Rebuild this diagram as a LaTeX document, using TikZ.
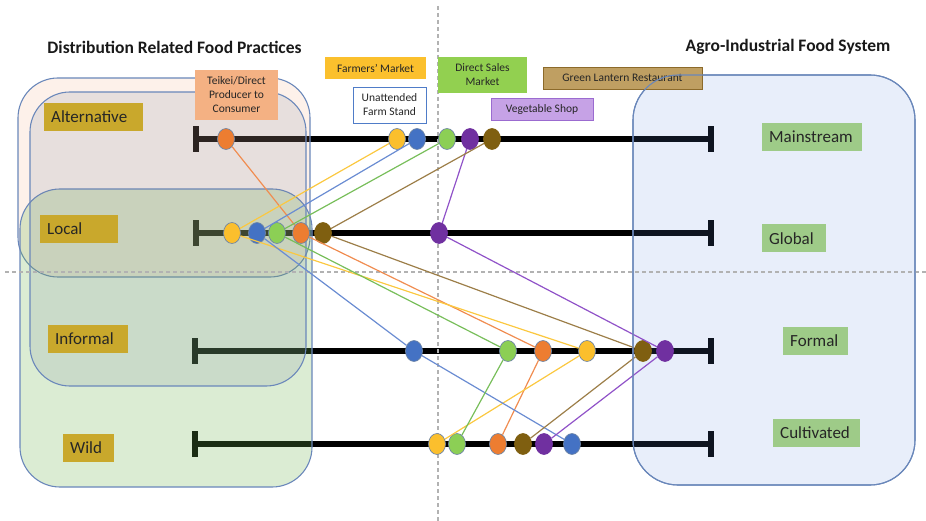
\documentclass[tikz,border=0pt]{standalone}
\usepackage{fontspec}
\setmainfont{Carlito}
\usetikzlibrary{shapes.geometric}

% frames and region fills
\definecolor{frameblue}{HTML}{6A87BA}
\definecolor{peachc}{HTML}{F0965A}
\definecolor{wildc}{HTML}{6EB450}
\definecolor{informc}{HTML}{78829A}
\definecolor{agroc}{HTML}{648CDC}
% label fills
\definecolor{goldc}{HTML}{C9A82C}
\definecolor{greenlab}{HTML}{9ECB88}
\definecolor{teikeic}{HTML}{F4B183}
\definecolor{farmc}{HTML}{FBC02D}
\definecolor{directc}{HTML}{92D050}
\definecolor{vegc}{HTML}{C6A2E6}
\definecolor{vegb}{HTML}{9B6BD0}
\definecolor{lanternc}{HTML}{BF9F62}
\definecolor{lanternb}{HTML}{8C6A2A}
\definecolor{standb}{HTML}{4F7CC8}
\definecolor{textdark}{HTML}{262626}
% practice dots and their links
\definecolor{dorange}{HTML}{ED7D31}
\definecolor{dyellow}{HTML}{FBBF2D}
\definecolor{dblue}{HTML}{4472C4}
\definecolor{dgreen}{HTML}{8CCF55}
\definecolor{dpurple}{HTML}{7030A0}
\definecolor{dbrown}{HTML}{7F5F10}
\definecolor{lorange}{HTML}{F08C50}
\definecolor{lyellow}{HTML}{FBC840}
\definecolor{lblue}{HTML}{6A8CD2}
\definecolor{lgreen}{HTML}{78BE5A}
\definecolor{lpurple}{HTML}{9052C8}
\definecolor{lbrown}{HTML}{9C7E48}
\definecolor{dotrim}{HTML}{6F86A6}

\begin{document}
\begin{tikzpicture}[x=1pt,y=-1pt,
  axisline/.style={line width=5.5pt},
  axisend/.style={fill=black, draw=none, inner sep=0pt, minimum width=5.5pt, minimum height=26pt},
  regionbox/.style={draw=frameblue, line width=1.1pt, rounded corners=40pt},
  guideline/.style={draw=black!30, line width=1.2pt, dash pattern=on 4pt off 3pt},
  practicedot/.style={ellipse, inner sep=0pt, minimum width=17pt, minimum height=21pt, draw=dotrim, line width=0.7pt},
  orangedot/.style={practicedot, fill=dorange},
  yellowdot/.style={practicedot, fill=dyellow},
  bluedot/.style={practicedot, fill=dblue},
  greendot/.style={practicedot, fill=dgreen},
  purpledot/.style={practicedot, fill=dpurple, draw=dpurple},
  browndot/.style={practicedot, fill=dbrown, draw=dbrown},
  practiceline/.style={line width=1.2pt},
  headline/.style={font=\bfseries\fontsize{17.5}{21}\selectfont, text=black!90, inner sep=0pt},
  toplabel/.style={inner sep=0pt, align=center, font=\fontsize{11.5}{14}\selectfont, text=textdark},
  catlabel/.style={fill=goldc, anchor=west, inner xsep=7pt, inner ysep=0pt, minimum height=28pt, align=left, font=\fontsize{17}{20}\selectfont, text=textdark},
  sidelabel/.style={catlabel, fill=greenlab}
]
\useasboundingbox (0,0) rectangle (926,521);

% the four scales
\node[axisend] (mL) at (196,139) {};
\node[axisend] (mR) at (711,139) {};
\node[axisend] (lL) at (196,233) {};
\node[axisend] (lR) at (711,233) {};
\node[axisend] (fL) at (195,351) {};
\node[axisend] (fR) at (711,351) {};
\node[axisend] (wL) at (195,444) {};
\node[axisend] (wR) at (711,444) {};
\draw[axisline] (mL.center) -- (mR.center);
\draw[axisline] (lL.center) -- (lR.center);
\draw[axisline] (fL.center) -- (fR.center);
\draw[axisline] (wL.center) -- (wR.center);

% regions
\path[regionbox, fill=peachc, fill opacity=.13] (18,78) rectangle (310,277);
\path[regionbox, fill=wildc, fill opacity=.25] (20,189) rectangle (312,487);
\path[regionbox, fill=informc, fill opacity=.16] (30,92) rectangle (306,386);
\path[regionbox, rounded corners=45pt, fill=agroc, fill opacity=.15] (633,75) rectangle (915,485);

% quadrant guides
\draw[guideline] (438,6) -- (438,521);
\draw[guideline] (5,272) -- (926,272);

% practice positions
\node[orangedot] (mo) at (226,139) {};
\node[yellowdot] (my) at (397,139) {};
\node[bluedot]   (mb) at (417,139) {};
\node[greendot]  (mg) at (447,139) {};
\node[purpledot] (mp) at (470,139) {};
\node[browndot]  (mn) at (492,139) {};

\node[yellowdot] (ly) at (232,233) {};
\node[bluedot]   (lb) at (257,233) {};
\node[greendot]  (lg) at (277,233) {};
\node[orangedot] (lo) at (301,233) {};
\node[browndot]  (ln) at (323,233) {};
\node[purpledot] (lp) at (439,233) {};

\node[bluedot]   (fb) at (414,351) {};
\node[greendot]  (fg) at (508,351) {};
\node[orangedot] (fo) at (543,351) {};
\node[yellowdot] (fy) at (587,351) {};
\node[browndot]  (fn) at (643,351) {};
\node[purpledot] (fp) at (665,351) {};

\node[yellowdot] (wy) at (437,444) {};
\node[greendot]  (wg) at (457,444) {};
\node[orangedot] (wo) at (498,444) {};
\node[browndot]  (wn) at (523,444) {};
\node[purpledot] (wp) at (544,444) {};
\node[bluedot]   (wb) at (572,444) {};

% links between the positions of each practice
\draw[practiceline, lorange] (mo) -- (lo) -- (fo) -- (wo);
\draw[practiceline, lyellow] (my) -- (ly) -- (fy) -- (wy);
\draw[practiceline, lblue]   (mb) -- (lb) -- (fb) -- (wb);
\draw[practiceline, lgreen]  (mg) -- (lg) -- (fg) -- (wg);
\draw[practiceline, lpurple] (mp) -- (lp) -- (fp) -- (wp);
\draw[practiceline, lbrown]  (mn) -- (ln) -- (fn) -- (wn);

% headings
\node[headline] (lefthead) at (174.5,47) {Distribution Related Food Practices};
\node[headline] (righthead) at (788,47) {Agro-Industrial Food System};

% practice labels
\node[toplabel, fill=teikeic, minimum width=83pt, minimum height=50pt] (teikei) at (236.5,95) {Teikei/Direct\\Producer to\\Consumer};
\node[toplabel, fill=farmc, minimum width=101pt, minimum height=22pt] (farmers) at (375.5,68) {Farmers’ Market};
\node[toplabel, fill=white, draw=standb, line width=0.9pt, minimum width=73pt, minimum height=36pt] (stand) at (389.5,105) {Unattended\\Farm Stand};
\node[toplabel, fill=directc, minimum width=89pt, minimum height=36pt] (direct) at (482.5,75) {Direct Sales\\Market};
\node[toplabel, fill=vegc, draw=vegb, line width=0.9pt, minimum width=102pt, minimum height=22pt] (veg) at (542,109) {Vegetable Shop};
\node[toplabel, fill=lanternc, draw=lanternb, line width=0.9pt, minimum width=159pt, minimum height=22pt] (lantern) at (622.5,78) {Green Lantern Restaurant};

% outline of the agro-industrial region runs over the restaurant label
\path[regionbox, rounded corners=45pt] (633,75) rectangle (915,485);

% scale end labels
\node[catlabel, text width=85pt] (alt) at (44,117) {Alternative};
\node[catlabel, text width=64pt] (loc) at (40,229) {Local};
\node[catlabel, text width=66pt] (inf) at (48,339) {Informal};
\node[catlabel, text width=37pt] (wild) at (63,447.5) {Wild};
\node[sidelabel, text width=86pt] (main) at (762,137) {Mainstream};
\node[sidelabel, text width=50pt] (glob) at (762,238.5) {Global};
\node[sidelabel, text width=51pt] (form) at (783,340.5) {Formal};
\node[sidelabel, text width=73pt] (cult) at (773,432.5) {Cultivated};
\end{tikzpicture}
\end{document}
